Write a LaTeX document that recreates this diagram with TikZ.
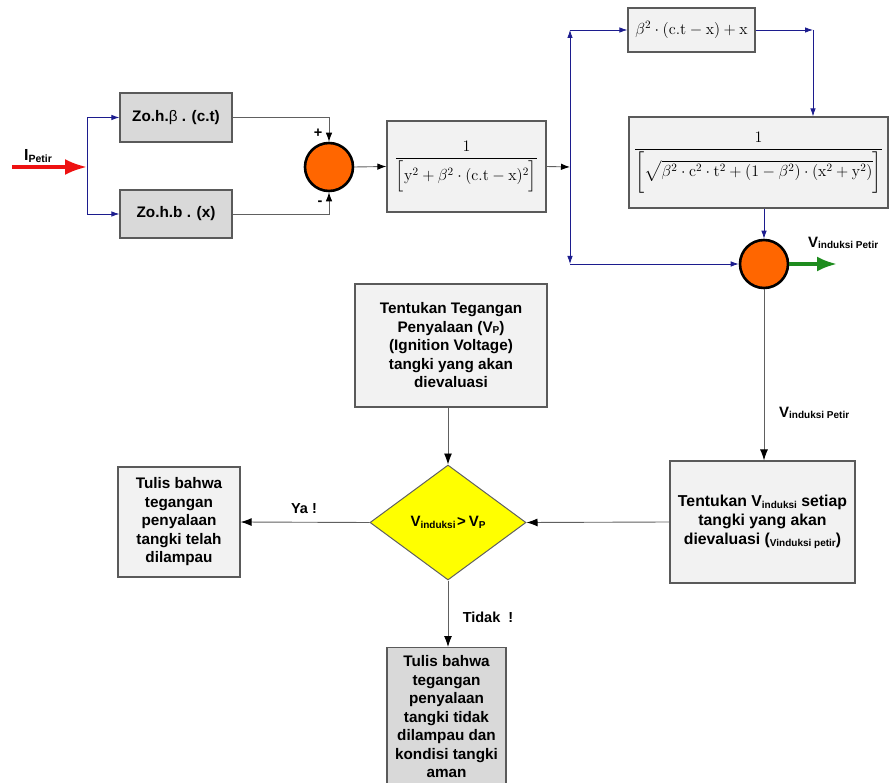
\RequirePackage{fix-cm}
\documentclass[tikz,border=0pt]{standalone}
\usepackage{amsmath}
\usepackage[no-math]{fontspec}
\setmainfont{Liberation Sans}
\usetikzlibrary{arrows.meta,shapes.geometric}
\definecolor{lightbox}{HTML}{F2F2F2}
\definecolor{darkbox}{HTML}{D9D9D9}
\definecolor{boxline}{HTML}{5A5A5A}
\definecolor{navy}{HTML}{1C1C8E}
\definecolor{sumorange}{HTML}{FF6600}
\definecolor{dyellow}{HTML}{FFFF00}
\definecolor{garrow}{HTML}{1E8C1E}
\definecolor{rarrow}{HTML}{EE1111}
\definecolor{gline}{HTML}{606060}
\newcommand{\bigsub}[2]{{\bfseries\fontsize{15}{15}\selectfont #1}\raisebox{-1.5pt}{\bfseries\fontsize{10}{10}\selectfont #2}}
\begin{document}
\begin{tikzpicture}[x=1pt,y=-1pt,
  box/.style={draw=boxline, line width=1.2pt, fill=lightbox, align=center,
    font=\bfseries\fontsize{15.3}{18.5}\selectfont, inner sep=2pt},
  dbox/.style={box, fill=darkbox},
  mbox/.style={draw=boxline, line width=1.2pt, fill=lightbox, align=center,
    font=\fontsize{16}{18}\selectfont, inner sep=2pt},
  sumnode/.style={circle, draw=black, line width=2.6pt, fill=sumorange, minimum size=48pt, inner sep=0pt},
  bl/.style={draw=navy, line width=0.8pt, -{Latex[length=8pt,width=5.5pt]}},
  gl/.style={draw=gline, line width=0.9pt, -{Latex[length=11pt,width=8pt,color=black]}},
  lbl/.style={font=\bfseries\fontsize{14.5}{14.5}\selectfont, inner sep=0pt}
]
\useasboundingbox (0,0) rectangle (889,783);

% blocks
\node[dbox, minimum width=112pt, minimum height=49pt] (b1) at (176,117.5) {Zo.h.{\mdseries β} . (c.t)};
\node[dbox, minimum width=112pt, minimum height=48pt] (b2) at (176,214) {Zo.h.b . (x)};
\node[sumnode] (s1) at (329,167) {};
\node[mbox, minimum width=159pt, minimum height=91pt] (b3) at (466.5,166.5)
  {$\dfrac{1}{\Bigl[\mathrm{y}^2+\beta^2\cdot(\mathrm{c.t}-\mathrm{x})^2\Bigr]}$};
\node[mbox, minimum width=127pt, minimum height=44pt] (b4) at (691.5,30)
  {$\beta^2\cdot(\mathrm{c.t}-\mathrm{x})+\mathrm{x}$};
\node[mbox, minimum width=259pt, minimum height=91pt] (b5) at (758.5,162.5)
  {$\dfrac{1}{\biggl[\sqrt{\beta^2\cdot\mathrm{c}^2\cdot\mathrm{t}^2+(1-\beta^2)\cdot(\mathrm{x}^2+\mathrm{y}^2)}\biggr]}$};
\node[sumnode] (s2) at (764,264) {};

\node[box, minimum width=192pt, minimum height=123pt] (b6) at (451,345.5)
  {Tentukan Tegangan\\Penyalaan (V\raisebox{-1pt}{\fontsize{10}{10}\selectfont P})\\(Ignition Voltage)\\tangki yang akan\\dievaluasi};
\node[diamond, draw=gline, line width=1pt, fill=dyellow, minimum width=156pt, minimum height=115pt, inner sep=0pt] (d) at (448,522.5)
  {\bigsub{V}{induksi}\,{\bfseries\fontsize{15}{15}\selectfont >} \bigsub{V}{P}};
\node[box, minimum width=185pt, minimum height=122pt, font=\bfseries\fontsize{15.8}{19}\selectfont] (b7) at (762.5,522)
  {Tentukan V\raisebox{-1.5pt}{\fontsize{10}{10}\selectfont induksi} setiap\\tangki yang akan\\dievaluasi (\raisebox{-1.5pt}{\fontsize{10}{10}\selectfont Vinduksi petir})};
\node[box, minimum width=122pt, minimum height=110pt] (b8) at (179,522)
  {Tulis bahwa\\tegangan\\penyalaan\\tangki telah\\dilampau};
\node[dbox, minimum width=119pt, minimum height=138pt, anchor=north] (b9) at (446.5,647)
  {Tulis bahwa\\tegangan\\penyalaan\\tangki tidak\\dilampau dan\\kondisi tangki\\aman};

% coordinates
\coordinate (start) at (12,167);
\coordinate (br) at (87,167);
\coordinate (sp) at (570,167);
\coordinate (sptop) at (570,30);
\coordinate (spbot) at (570,264);
\coordinate (c4) at (813,30);
\coordinate (out) at (837,264);

% connectors
\draw[rarrow, line width=3.5pt, -{Latex[length=22pt,width=16pt]}] (start) -- (br);
\draw[bl] (br) |- (b1.west);
\draw[bl] (br) |- (b2.west);
\draw[gl, -{Latex[length=9pt,width=6.5pt,color=black]}] (b1.east) -| (s1.north);
\draw[gl, -{Latex[length=9pt,width=6.5pt,color=black]}] (b2.east) -| (s1.south);
\draw[gl, -{Latex[length=9pt,width=6.5pt,color=black]}] (s1.east) -- (b3.west);
\draw[gl, -{Latex[length=9pt,width=6.5pt,color=black]}] (b3.east) -- (sp);
\draw[bl] (sp) -- (sptop);
\draw[bl] (sptop) -- (b4.west);
\draw[bl] (sp) -- (spbot);
\draw[bl] (spbot) -- (s2.west);
\draw[bl] (b4.east) -- (c4);
\draw[bl] (c4) -- (c4 |- b5.north);
\draw[bl] (s2 |- b5.south) -- (s2.north);
\draw[garrow, line width=3.5pt, -{Latex[length=20pt,width=15pt]}] (s2.east) -- (out);
\draw[gl] (s2.south) -- (s2.south |- b7.north);
\draw[gl] (d.north |- b6.south) -- (d.north);
\draw[gl] (b7.west) -- (d.east);
\draw[gl] (d.west) -- (b8.east);
\draw[gl] (d.south) -- (d.south |- b9.north);

% labels
\node[lbl, anchor=west] (lI) at (24,156) {{\fontsize{16}{16}\selectfont I}\raisebox{-2pt}{\fontsize{10.5}{10.5}\selectfont Petir}};
\node[lbl] (lplus) at (318,133) {+};
\node[lbl] (lminus) at (320,203) {-};
\node[lbl, anchor=west] (lv1) at (808,243) {\bigsub{V}{induksi Petir}};
\node[lbl, anchor=west] (lv2) at (779,413) {\bigsub{V}{induksi Petir}};
\node[lbl] (lya) at (304,509) {Ya !};
\node[lbl] (ltidak) at (488,617) {Tidak\ \ !};
\end{tikzpicture}
\end{document}
